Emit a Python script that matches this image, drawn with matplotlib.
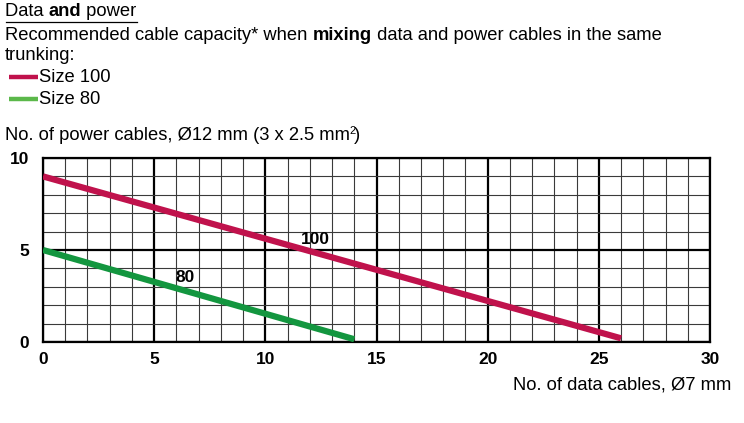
import numpy as np
import matplotlib.pyplot as plt
from matplotlib.lines import Line2D

plt.rcParams['font.family'] = ['Liberation Sans', 'DejaVu Sans']

# Capacity lines: data cables (x) vs power cables (y)
size100_x = [0, 26]
size100_y = [9, 0.2]
size80_x = [0, 14]
size80_y = [5, 0.15]

x_ticks = [0, 5, 10, 15, 20, 25, 30]
y_ticks = [0, 5, 10]

red = '#c0124c'
green = '#13963f'
green_key = '#5bb84a'

W, H = 744, 423
FS = 13.2
fig = plt.figure(figsize=(W / 100, H / 100), dpi=100)


def px(x, y):
    return x / W, 1 - y / H


def rich_line(x, y, parts, size=FS):
    """Draw a row of text pieces left to right, each (text, bold)."""
    r = fig.canvas.get_renderer()
    fx, fy = px(x, y)
    x0 = fx
    for s, bold in parts:
        t = fig.text(fx, fy, s, fontsize=size, va='center', ha='left',
                     fontweight='bold' if bold else 'normal')
        bb = t.get_window_extent(renderer=r)
        fx += bb.width / W
    return x0, fx


x0, x1 = rich_line(5, 12, [('Data ', False), ('and', True), (' power', False)])
fig.add_artist(Line2D([x0 + 1 / W, x1], [1 - 22 / H] * 2, color='black', lw=0.9))
rich_line(5, 35, [('Recommended cable capacity* when ', False), ('mixing', True),
                  (' data and power cables in the same', False)])
rich_line(5, 56, [('trunking:', False)])

# legend keys
for yy, col, lab in [(77, red, 'Size 100'), (99, green_key, 'Size 80')]:
    fig.add_artist(Line2D([9 / W, 38 / W], [1 - yy / H] * 2, color=col, lw=3.2,
                          solid_capstyle='butt'))
    rich_line(39, yy, [(lab, False)])

rich_line(5, 136, [('No. of power cables, Ø12 mm (3 x 2.5 mm', False)])
# superscript and closing bracket
r = fig.canvas.get_renderer()
base = fig.texts[-1].get_window_extent(renderer=r)
fig.text(base.x1 / W - 1 / W, 1 - 131 / H, '2', fontsize=8, va='center', ha='left')
fig.text(base.x1 / W + 4 / W, 1 - 136 / H, ')', fontsize=FS, va='center', ha='left')

ax = fig.add_axes([43 / W, (H - 342) / H, (710 - 43) / W, (342 - 158) / H])
ax.set_xlim(0, 30)
ax.set_ylim(0, 10)

for v in range(31):
    major = v % 5 == 0
    ax.axvline(v, color='black' if major else '#3a3a3a', lw=1.6 if major else 0.8, zorder=1)
for v in range(11):
    major = v % 5 == 0
    ax.axhline(v, color='black' if major else '#3a3a3a', lw=1.6 if major else 0.8, zorder=1)

ax.plot(size100_x, size100_y, color=red, lw=4.5, solid_capstyle='butt', zorder=3)
ax.plot(size80_x, size80_y, color=green, lw=4.5, solid_capstyle='butt', zorder=3)
ax.text(12.25, 5.55, '100', fontsize=12.5, fontweight='bold', ha='center', va='center', zorder=4)
ax.text(6.4, 3.5, '80', fontsize=12.5, fontweight='bold', ha='center', va='center', zorder=4)

for s in ax.spines.values():
    s.set_linewidth(1.6)
ax.set_xticks(x_ticks)
ax.set_yticks(y_ticks)
ax.tick_params(length=0, labelsize=12.5, pad=7)
ax.tick_params(axis='y', pad=10)
for lbl in ax.get_xticklabels() + ax.get_yticklabels():
    lbl.set_fontweight('bold')

fig.text(731 / W, 1 - 385 / H, 'No. of data cables, Ø7 mm', fontsize=FS,
         ha='right', va='center')

fig.savefig('out.png', dpi=100)
